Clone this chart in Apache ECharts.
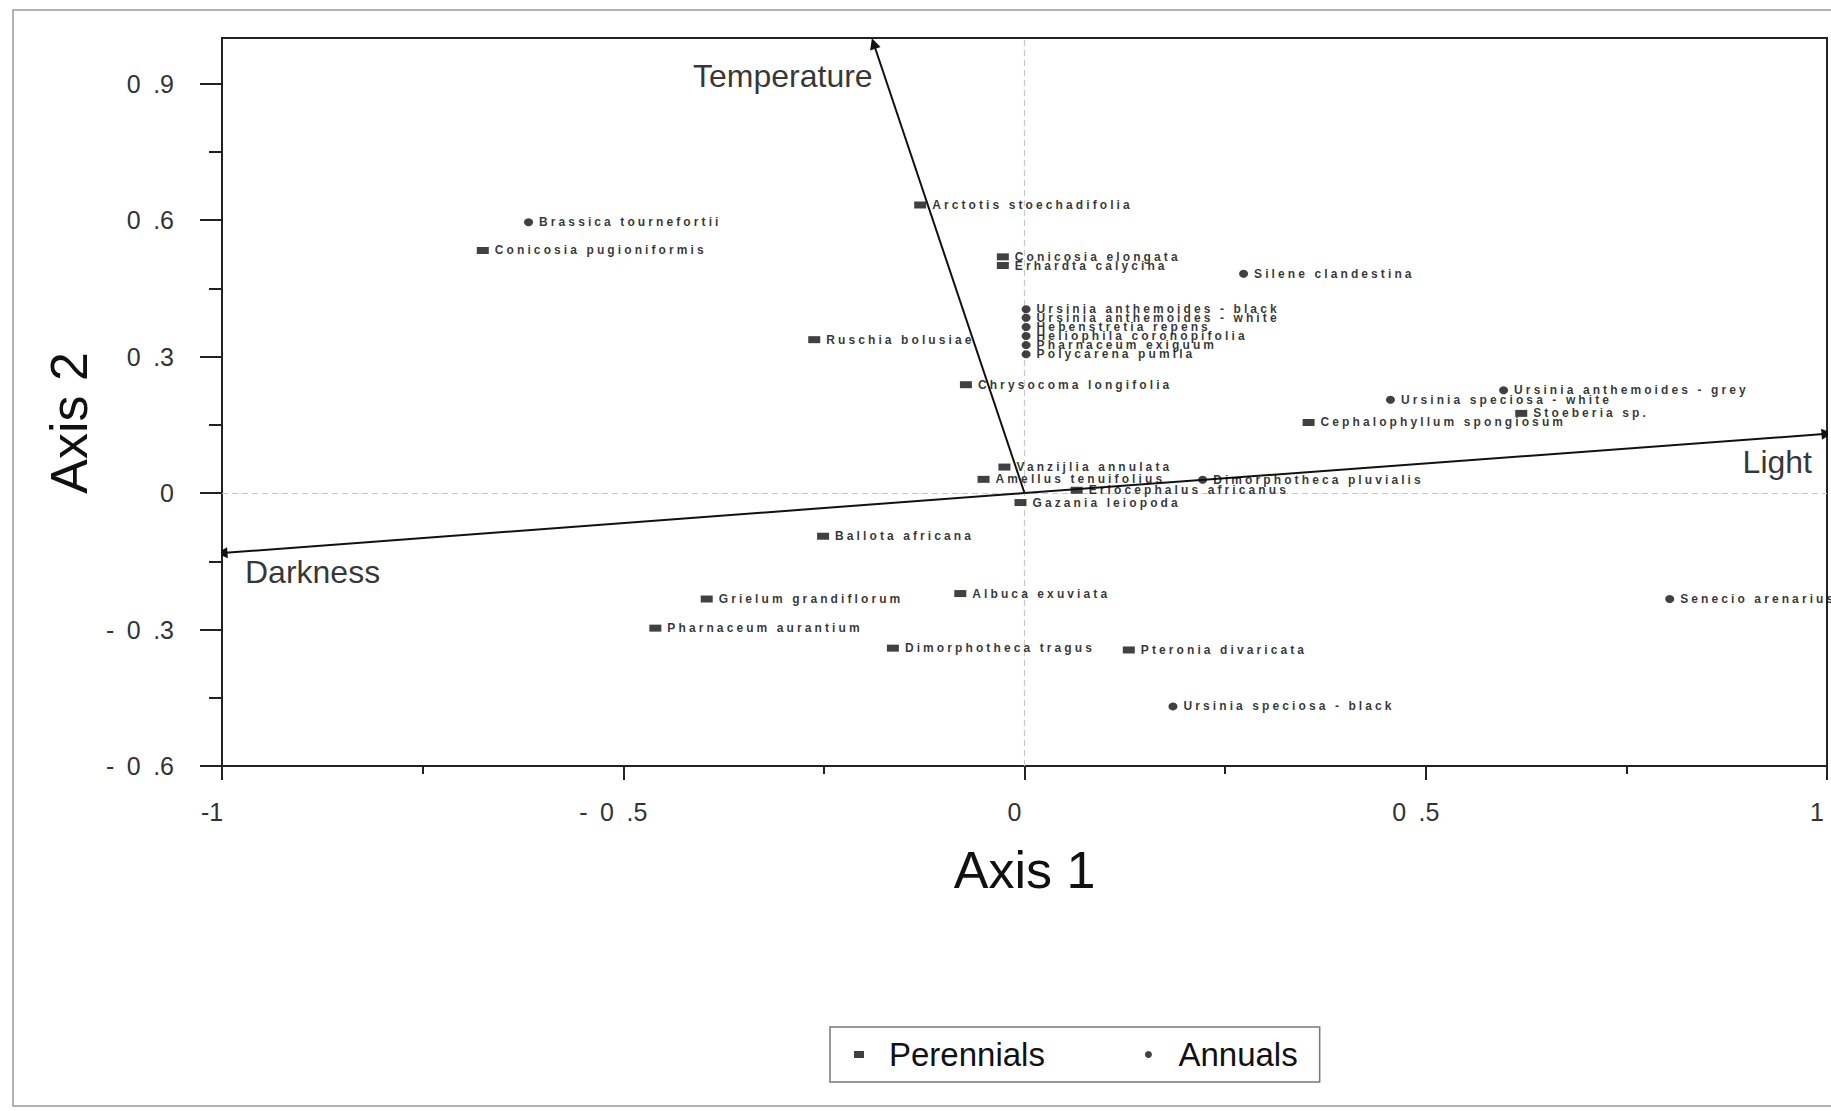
<!DOCTYPE html>
<html><head><meta charset="utf-8">
<script src="https://cdn.jsdelivr.net/npm/echarts@6/dist/echarts.min.js"></script>
<style>
html,body{margin:0;padding:0;background:#fff}
#chart{width:1831px;height:1111px}
/* species labels are printed letter-spaced in the original */
#chart svg text[style*="12px"]{letter-spacing:3.1px}
</style>
</head><body><div id="chart"></div>
<script>
// ---- data ----
const perennialNames = ['Arctotis stoechadifolia','Conicosia pugioniformis','Conicosia elongata','Erhardta calycina','Ruschia bolusiae','Chrysocoma longifolia','Stoeberia sp.','Cephalophyllum spongiosum','Vanzijlia annulata','Amellus tenuifolius','Eriocephalus africanus','Gazania leiopoda','Ballota africana','Grielum grandiflorum','Albuca exuviata','Pharnaceum aurantium','Dimorphotheca tragus','Pteronia divaricata'];
const perennialX = [-0.130,-0.675,-0.027,-0.027,-0.262,-0.073,0.619,0.354,-0.025,-0.051,0.065,-0.005,-0.251,-0.396,-0.080,-0.460,-0.164,0.130];
const perennialY = [0.633,0.533,0.519,0.500,0.337,0.238,0.175,0.155,0.057,0.030,0.006,-0.021,-0.095,-0.233,-0.221,-0.297,-0.341,-0.345];

const annualNames = ['Brassica tournefortii','Silene clandestina','Ursinia anthemoides - black','Ursinia anthemoides - white','Hebenstretia repens','Heliophila coronopifolia','Pharnaceum exiguum','Polycarena pumila','Ursinia anthemoides - grey','Ursinia speciosa - white','Dimorphotheca pluvialis','Senecio arenarius','Ursinia speciosa - black'];
const annualX = [-0.618,0.273,0.002,0.002,0.002,0.002,0.002,0.002,0.597,0.456,0.222,0.804,0.185];
const annualY = [0.595,0.482,0.404,0.385,0.365,0.345,0.325,0.305,0.226,0.205,0.029,-0.233,-0.469];

const vectorNames = ['Temperature','Light','Darkness'];
const vectorX = [-0.188, 1.0, -1.0];
const vectorY = [0.988, 0.130, -0.132];

const xMajorTicks = [-1,-0.5,0,0.5,1];
const xMinorTicks = [-0.75,-0.25,0.25,0.75];
const yMajorTicks = [-0.6,-0.3,0,0.3,0.6,0.9];
const yMinorTicks = [-0.45,-0.15,0.15,0.45,0.75];

// ---- styling ----
const FONT = "'Liberation Sans', Arial, sans-serif";
const vectorLabelStyle = {
  'Temperature': {align:'right', offset:[-1, 33]},
  'Light': {align:'right', offset:[-15, 28]},
  'Darkness': {align:'left', offset:[23, 19]}
};
function fmt(v){
  let s = String(Math.round(v*100)/100);
  if (s.indexOf('.') >= 0) s = s.replace('-', '-\u2002').replace('.', '\u2002.');
  return s;
}
const speciesLabel = {
  show:true, position:'right', distance:6, formatter:'{b}',
  fontFamily:FONT, fontWeight:'bold', fontSize:12, color:'#000'
};

const chart = echarts.init(document.getElementById('chart'), null, {renderer:'svg'});
chart.setOption({
  backgroundColor:'#ffffff',
  animation:false,
  grid:{left:222, right:4, top:38, bottom:345, show:true, borderColor:'#222', borderWidth:2, backgroundColor:'#fff'},
  xAxis:[
    {type:'value', min:-1, max:1, position:'bottom',
     axisLine:{show:true, onZero:false, lineStyle:{color:'#222', width:2}},
     axisTick:{show:true, customValues:xMajorTicks, length:14, lineStyle:{color:'#222', width:2}},
     axisLabel:{show:true, customValues:xMajorTicks, formatter:fmt, margin:33, fontSize:25, fontFamily:FONT, color:'#333', padding:[0,20,0,0]},
     splitLine:{show:false},
     name:'Axis 1', nameLocation:'middle', nameGap:78,
     nameTextStyle:{fontSize:52, fontFamily:FONT, color:'#111'}},
    {type:'value', min:-1, max:1, position:'bottom',
     axisLine:{show:false, onZero:false},
     axisTick:{show:true, customValues:xMinorTicks, length:8, lineStyle:{color:'#222', width:2}},
     axisLabel:{show:false}, splitLine:{show:false}}
  ],
  yAxis:[
    {type:'value', min:-0.6, max:1.0, position:'left',
     axisLine:{show:true, onZero:false, lineStyle:{color:'#222', width:2}},
     axisTick:{show:true, customValues:yMajorTicks, length:22, lineStyle:{color:'#222', width:2}},
     axisLabel:{show:true, customValues:yMajorTicks, formatter:fmt, margin:48, fontSize:25, fontFamily:FONT, color:'#333'},
     splitLine:{show:false},
     name:'Axis 2', nameLocation:'middle', nameGap:120, nameRotate:90,
     nameTextStyle:{fontSize:52, fontFamily:FONT, color:'#111', padding:[0,42,0,0]}},
    {type:'value', min:-0.6, max:1.0, position:'left',
     axisLine:{show:false, onZero:false},
     axisTick:{show:true, customValues:yMinorTicks, length:13, lineStyle:{color:'#222', width:2}},
     axisLabel:{show:false}, splitLine:{show:false}}
  ],
  legend:{
    data:['Perennials','Annuals'], left:830, top:1027, orient:'horizontal',
    itemWidth:10, itemHeight:7, itemGap:100,
    padding:[11,22,11,24], borderColor:'#777', borderWidth:1.5, borderRadius:0,
    textStyle:{fontSize:33, fontFamily:FONT, color:'#111', padding:[0,0,0,20]}
  },
  graphic:[
    {type:'rect', silent:true, z:-10, shape:{x:13, y:10, width:1830, height:1096},
     style:{fill:'none', stroke:'#999', lineWidth:1.5}}
  ],
  series:[
    {type:'scatter', name:'Perennials', symbol:'rect', symbolSize:[12,7], z:5,
     itemStyle:{color:'#111'},
     label:speciesLabel,
     data:perennialNames.map((n,i)=>({name:n, value:[perennialX[i], perennialY[i]]})),
     markLine:{silent:true, symbol:['none','none'], label:{show:false}, z:1,
       lineStyle:{color:'#c8c8c8', type:[6,4], width:1.2},
       data:[{xAxis:0},{yAxis:0}]}
    },
    {type:'scatter', name:'Annuals', symbol:'circle', symbolSize:[9,8], z:5,
     itemStyle:{color:'#111'},
     label:speciesLabel,
     data:annualNames.map((n,i)=>({name:n, value:[annualX[i], annualY[i]]}))
    },
    {type:'lines', name:'vectors', coordinateSystem:'cartesian2d', z:4,
     symbol:['none','triangle'], symbolSize:[0,11],
     lineStyle:{color:'#111', width:2, opacity:1},
     data:vectorNames.map((n,i)=>({name:n, coords:[[0,0],[vectorX[i], vectorY[i]]]}))
    },
    {type:'scatter', name:'vectorLabels', symbolSize:0, z:6, silent:true,
     label:{show:true, position:'inside', formatter:'{b}', fontSize:32, fontFamily:FONT, color:'#000', verticalAlign:'middle'},
     data:vectorNames.map((n,i)=>({name:n, value:[vectorX[i], vectorY[i]], label:vectorLabelStyle[n]}))
    }
  ]
});
</script></body></html>
